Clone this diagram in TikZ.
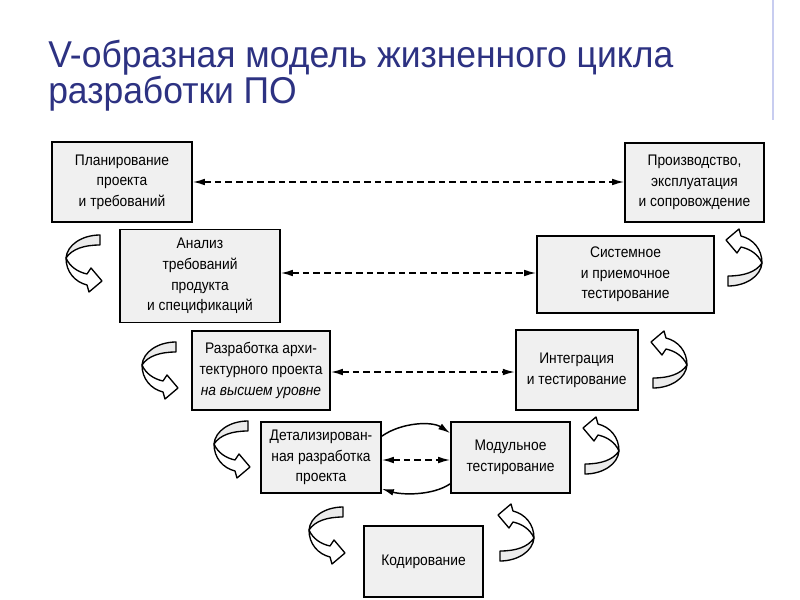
\documentclass[tikz,border=0pt]{standalone}
\usepackage{fontspec}
\setmainfont[FakeStretch=0.9]{Liberation Sans}
\newfontfamily\titlefont[FakeStretch=0.95]{Liberation Sans}
\usetikzlibrary{arrows.meta,calc}
\definecolor{titleblue}{RGB}{45,50,130}
\definecolor{barblue}{RGB}{200,205,240}
\tikzset{
  stagebox/.style={draw=black, line width=1.3pt, fill=black!6, align=center, inner sep=0pt,
    font=\fontsize{11.5}{15.5}\selectfont},
  dlink/.style={dash pattern=on 5pt off 3pt, line width=1.1pt,
    {Latex[length=9pt,width=5pt]}-{Latex[length=9pt,width=5pt]}},
  slink/.style={line width=1.1pt, -{Latex[length=9pt,width=5pt]}},
  ribbon/.style={draw=black, line width=1pt, fill=white, line join=round},
  turnarrow/.pic={
    \path[ribbon, fill=black!8] (0,0) .. controls (-18,0) and (-33,10) .. (-34,23)
      .. controls (-28,14) and (-16,10) .. (0,10) -- cycle;
    \path[ribbon] (-34,23) .. controls (-30,32) and (-22,37) .. (-13,39) -- (-9,33) -- (2,46)
      -- (-11,57) -- (-13,50) .. controls (-25,47) and (-34,37) .. (-34,23) -- cycle;
  },
  titletext/.style={anchor=base west, inner sep=0pt, text=titleblue,
    font=\titlefont\fontsize{28}{34}\selectfont},
}
\begin{document}
\begin{tikzpicture}[x=0.75pt,y=-0.75pt]
\useasboundingbox (0,0) rectangle (800,600);
% title
\node[titletext] (t1) at (48,67) {V-образная модель жизненного цикла};
\node[titletext] (t2) at (48,103) {разработки ПО};
\draw[barblue, line width=2.2pt] (773,0) -- (773,120);
% boxes
\node[stagebox, minimum width=105pt, minimum height=60pt] (plan) at (122,182)
  {Планирование\\проекта\\и требований};
\node[stagebox, minimum width=104.25pt, minimum height=59.25pt] (prod) at (694.5,182.5)
  {Производство,\\эксплуатация\\и сопровождение};
\node[stagebox, minimum width=120pt, minimum height=69.75pt] (anal) at (200,276)
  {Анализ\\требований\\продукта\\и спецификаций};
\node[stagebox, minimum width=132.75pt, minimum height=57.75pt] (sys) at (625.5,274.5)
  {Системное\\и приемочное\\тестирование};
\node[stagebox, minimum width=103.5pt, minimum height=59.25pt] (arch) at (261,370.5)
  {Разработка архи-\\тектурного проекта\\\textit{на высшем уровне}};
\node[stagebox, minimum width=91.5pt, minimum height=60pt] (integ) at (576.7,370)
  {Интеграция\\и тестирование};
\node[stagebox, minimum width=90pt, minimum height=53.25pt] (det) at (321,457.5)
  {Детализирован-\\ная разработка\\проекта};
\node[stagebox, minimum width=89.25pt, minimum height=53.25pt] (mod) at (510.5,457.5)
  {Модульное\\тестирование};
\node[stagebox, minimum width=89.25pt, minimum height=53.25pt] (code) at (423.5,561.5)
  {Кодирование};
% dashed links
\draw[dlink] (plan.east) -- (plan.east -| prod.west);
\draw[dlink] ($(anal.east)+(0,-3)$) -- ($(anal.east -| sys.west)+(0,-3)$);
\draw[dlink] ($(arch.east)+(0,1.5)$) -- ($(arch.east -| integ.west)+(0,1.5)$);
\draw[dlink] ($(det.east)+(0,2.5)$) -- ($(det.east -| mod.west)+(0,2.5)$);
% solid links
\draw[slink] ($(det.north east)+(0,15)$) .. controls +(20,-14) and +(-18,-12) .. ($(mod.north west)+(0,12)$);
\draw[slink] ($(mod.south west)+(0,-10)$) .. controls +(-18,12) and +(20,6) .. ($(det.south east)+(0,-5)$);
% turn arrows
\pic at (100,235) {turnarrow};
\pic at (176,342) {turnarrow};
\pic at (248,421) {turnarrow};
\pic at (343,507) {turnarrow};
\pic[rotate=180] at (728,286) {turnarrow};
\pic[rotate=180] at (653,388) {turnarrow};
\pic[rotate=180] at (585,474) {turnarrow};
\pic[rotate=180] at (500,561) {turnarrow};
\end{tikzpicture}
\end{document}
